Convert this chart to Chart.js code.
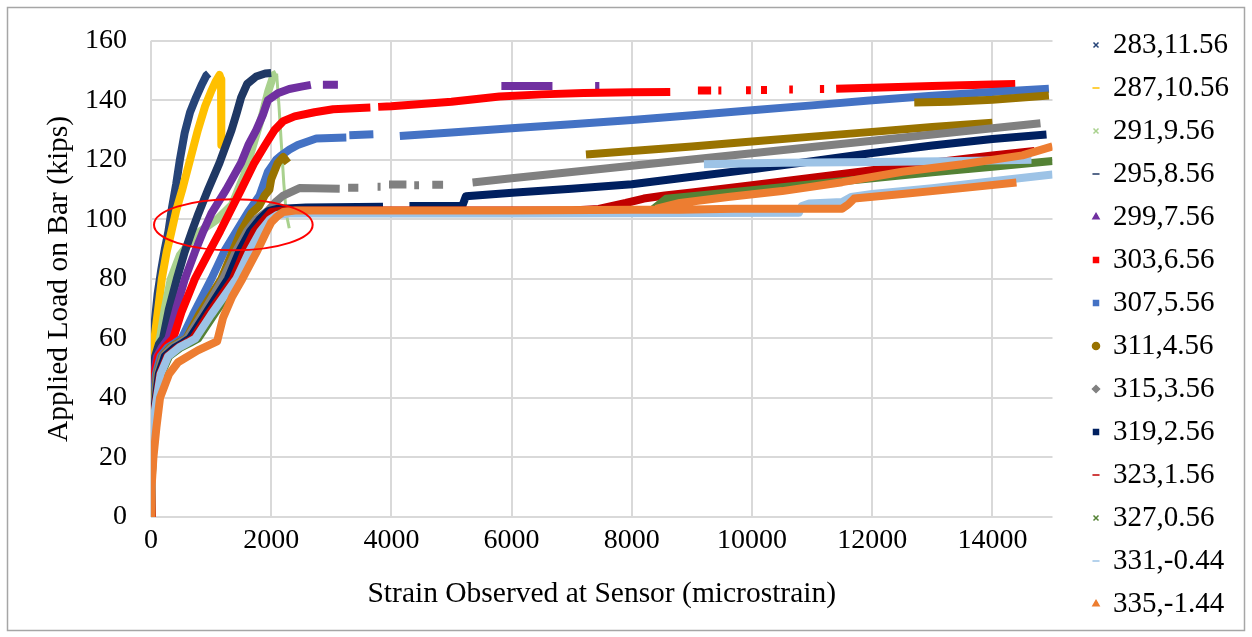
<!DOCTYPE html>
<html><head><meta charset="utf-8">
<script src="https://cdn.jsdelivr.net/npm/chart.js@4.4.1/dist/chart.umd.min.js"></script>
<style>html,body{margin:0;padding:0;background:#fff;}canvas{display:block;}</style>
</head><body>
<canvas id="c" width="1252" height="637"></canvas>
<script>
// ---- data: strain (microstrain) and applied load (kips); null = gap in the recorded trace ----
const seriesNames = ['283,11.56','287,10.56','291,9.56','295,8.56','299,7.56','303,6.56','307,5.56','311,4.56','315,3.56','319,2.56','323,1.56','327,0.56','331,-0.44','335,-1.44'];
const xTicks = [0,2000,4000,6000,8000,10000,12000,14000];
const yTicks = [0,20,40,60,80,100,120,140,160];

const strain283 = [0,3,8,15,30,60,110,170,230,290,350,420,480,560,650,750,850,920,960];
const load283   = [0,15,35,50,57,65,75,83,90,96,104,112,120,129,136,141,145.5,148.3,149];

const strain287 = [0,4,10,20,40,70,120,180,260,330,420,520,650,780,900,1000,1080,1140,1165,1170];
const load287   = [0,15,35,50,57,62,70,80,89,95,103,110,120,130,138,143,146.5,148.5,147,125];

const strain291 = [0,5,20,45,90,150,230,330,480,750,1100,1350,1550,1700,1850,1950,2040,2090,2130,2170,2210,2250,2300];
const load291   = [0,15,35,48,54,60,70,80,88,95,100,105,115,125,135,143,148.5,149,138,125,112,102,97];

const strain295 = [0,5,15,35,70,130,200,300,430,560,680,790,950,1140,1250,1340,1430,1500,1600,1750,1900,2000];
const load295   = [0,15,35,48,54,58,60,70,80,89,96,102,110,119,125,130,136,141,145.5,148,149,149.2];

const strain299 = [0,6,20,50,100,180,290,420,564,730,870,1005,1250,1500,1620,1751,1860,1945,2110,2300,2500,2660,null,2860,3110,null,5830,6680,null,7390,7460];
const load299   = [0,15,35,48,54,57,60,70,80,89,96,102,110,119,125,130,135,140,142.4,143.8,144.6,145.2,null,145.2,145.2,null,144.8,144.8,null,144.8,144.8];

const strain303 = [0,8,25,60,120,230,370,510,730,978,1150,1310,1500,1720,1900,2055,2200,2390,2720,3030,3650,null,3780,4000,5000,5800,6500,7200,8000,8640,null,9100,9320,null,9440,9490,null,9900,9980,null,10150,10250,null,10620,10680,null,11130,11200,null,11400,12000,13000,14000,14380];
const load303   = [0,15,35,48,54,57,60,69,80,89.5,96,102.4,110,119,125,130,133,134.6,136,137,137.6,null,137.8,138,139.5,141.3,142,142.5,142.7,142.8,null,143.3,143.3,null,143.3,143.3,null,143.4,143.4,null,143.5,143.5,null,143.6,143.6,null,143.8,143.8,null,143.9,144.2,144.8,145.3,145.5];

const strain307 = [0,10,30,80,160,280,400,510,700,1005,1226,1420,1613,1806,1945,2083,2166,2305,2442,2750,3250,null,3300,3700,null,4140,5000,6000,7000,8000,9000,10000,11000,12000,13000,14000,14940];
const load307   = [0,15,35,48,54,57,58.5,60,68,80,89.5,96,102.4,108,116,120,121.5,123.5,125,127.2,127.5,null,128.3,128.6,null,128,129.2,130.6,132,133.4,135,136.7,138.3,140,141.5,142.8,143.9];

const strain311 = [0,12,40,100,190,320,450,590,800,1170,1365,1500,1668,1800,1890,1970,2000,2050,2110,2200,2276,null,7237,8000,9000,10000,11000,12000,13000,14000,null,12700,13300,14000,14940];
const load311   = [0,15,35,48,54,57,58.5,60,68,80,89.5,96,102,104.5,108,110,113.5,116,119,121,119,null,121.8,123,124.5,126.2,127.8,129.4,131,132.5,null,139.3,139.5,140.2,141.6];

const strain315 = [0,12,45,110,200,350,480,600,850,1200,1420,1600,1750,1950,2083,2200,2470,3140,null,3280,3450,null,3770,3820,null,3960,4250,null,4380,4460,null,4680,4860,null,5350,6000,7000,8000,9000,10000,11000,12000,13000,14000,14800];
const load315   = [0,15,35,48,54,57,58.5,60,68,80,89.5,96,100,103,106,108,110.5,110.3,null,110.6,110.6,null,111,111,null,111.7,111.7,null,111.5,111.5,null,111.6,111.6,null,112.4,113.8,115.9,118,120.1,122.2,124.3,126.4,128.5,130.6,132.3];

const strain319 = [0,14,50,130,230,400,530,645,900,1280,1475,1650,1806,1950,2100,2580,3860,null,4300,5180,5240,6070,7000,8000,9000,10000,11000,12000,13000,14000,14900];
const load319   = [0,15,35,48,54,57,58.5,60,68,80,89.5,96,100,102.8,103.5,104,104.2,null,104.5,104.5,107.8,109,110.3,111.8,114.3,116.8,119.5,122.3,124.8,127,128.5];

const strain323 = [0,16,55,150,270,450,580,700,950,1365,1560,1720,1890,2000,2200,3000,5000,7000,7450,7900,8200,8550,9000,10000,11000,12000,13000,14000,14700];
const load323   = [0,15,35,48,54,57,58.5,60,68,80,89.5,96,100,102.5,103,103,103,103,103.5,105.5,107,108,109,111.5,114,116.5,119,121.5,123];

const strain327 = [0,18,65,170,300,500,650,785,1050,1450,1670,1850,2000,2150,2300,5000,8300,8570,9000,10000,11000,12000,13000,14000,15000];
const load327   = [0,15,35,48,54,57,58.5,60,68,80,89.5,96,100,102,102.6,102.5,102.5,106.9,107.8,109.8,111.8,113.8,115.8,117.7,119.6];

const strain331 = [0,17,60,160,285,470,610,740,1000,1420,1640,1820,1980,2100,2300,6000,10780,10830,10950,11500,11650,12000,13000,14000,15000,null,9200,10500,12000,13500,14650];
const load331   = [0,15,35,48,54,57,58.5,60,68,80,89.5,96,100,101.5,102,102,102.2,104.5,105.3,105.8,107.5,108.5,110.5,112.8,115.1,null,118.5,119,119.3,119.6,120];

const strain335 = [0,10,40,90,150,300,450,780,1100,1200,1350,1520,1650,1770,1900,2000,2100,2200,2400,4000,6000,8000,8800,9700,11500,11600,11700,12500,13500,14400,null,8400,8800,9600,10500,11500,12500,13500,14500,15000];
const load335   = [0,10,20,30,40,48,52,56,59,67,74,80,85,89.5,95,99,101,102.5,103,103,103,103.2,103.2,103.6,103.6,105,107,108.5,110.5,112.4,null,103.5,105.5,107.5,109.5,112.5,116,118.5,121.5,124.5];

const strainSeries = [strain283,strain287,strain291,strain295,strain299,strain303,strain307,strain311,strain315,strain319,strain323,strain327,strain331,strain335];
const loadSeries   = [load283,load287,load291,load295,load299,load303,load307,load311,load315,load319,load323,load327,load331,load335];

// ---- styles ----
const colors  = ['#264478','#FFC000','#A9D18E','#1F3864','#7030A0','#FF0000','#4472C4','#997300','#808080','#002060','#C00000','#548235','#9DC3E6','#ED7D31'];
const markers = ['crossRot','line','crossRot','line','triangle','rect','rect','circle','rectRot','rect','line','crossRot','line','triangle'];
const thinDescent = [false,false,true,false,false,false,false,false,false,false,false,false,false,false];
const highlight = {cx:1370, cy:98.2, rx:1320, ry:8.6};
const FAMILY = "'Liberation Serif','Times New Roman',serif";
const FONT = {family:FAMILY, size:28};
const TITLE_FONT = {family:FAMILY, size:29.5};
const LEGEND_FONT = {family:FAMILY, size:29};

const datasets = seriesNames.map((name,i)=>({
  label:name,
  data: strainSeries[i].map((x,k)=>({x:x, y:loadSeries[i][k]})),
  showLine:true,
  borderColor:colors[i],
  backgroundColor:colors[i],
  borderWidth:8,
  borderJoinStyle:'round',
  tension:0,
  spanGaps:false,
  pointRadius:0,
  pointHoverRadius:0,
  pointStyle:markers[i],
  pointBackgroundColor:colors[i],
  pointBorderColor:colors[i],
  pointBorderWidth:1.5,
  order: seriesNames.length - i,
  segment: thinDescent[i] ? {borderWidth: c => (c.p1.parsed.y < c.p0.parsed.y ? 3 : undefined)} : undefined
}));

const framePlugin = {
  id:'frame',
  beforeDraw(chart){
    const ctx = chart.ctx;
    ctx.save();
    ctx.fillStyle='#fff'; ctx.fillRect(0,0,chart.width,chart.height);
    ctx.strokeStyle='#a6a6a6'; ctx.lineWidth=1.5;
    ctx.strokeRect(7.5,7.5,chart.width-15,chart.height-14);
    ctx.restore();
  }
};
const ellipsePlugin = {
  id:'ellipse',
  afterDatasetsDraw(chart){
    const {ctx, scales:{x,y}} = chart;
    const cx = x.getPixelForValue(highlight.cx), cy = y.getPixelForValue(highlight.cy);
    const rx = x.getPixelForValue(highlight.cx+highlight.rx) - cx;
    const ry = cy - y.getPixelForValue(highlight.cy+highlight.ry);
    ctx.save(); ctx.beginPath(); ctx.ellipse(cx,cy,rx,ry,0,0,2*Math.PI);
    ctx.strokeStyle='#FF0000'; ctx.lineWidth=2; ctx.stroke(); ctx.restore();
  }
};

Chart.defaults.font.family = FAMILY;
new Chart(document.getElementById('c'), {
  type:'scatter',
  data:{datasets},
  plugins:[framePlugin, ellipsePlugin],
  options:{
    responsive:false, animation:false, devicePixelRatio:1,
    layout:{padding:{top:12,left:0,right:13,bottom:0}},
    plugins:{
      title:{display:true, text:' ', font:{size:10, lineHeight:1}, padding:9},
      tooltip:{enabled:false},
      legend:{
        position:'right', align:'center',
        labels:{usePointStyle:true, boxWidth:5, boxHeight:5, padding:14, color:'#000', font:LEGEND_FONT,
          sort:(a,b)=>a.datasetIndex-b.datasetIndex}
      }
    },
    scales:{
      x:{
        type:'linear', min:0, max:15000,
        afterBuildTicks:s=>{ s.ticks = xTicks.map(v=>({value:v})); },
        ticks:{color:'#000', font:FONT, padding:7, maxRotation:0, autoSkip:false, callback:v=>String(v)},
        grid:{color:'#d9d9d9', lineWidth:2, drawTicks:false},
        border:{display:false},
        title:{display:true, text:'Strain Observed at Sensor (microstrain)', color:'#000', font:TITLE_FONT, padding:{top:0,bottom:25}},
        afterFit:s=>{ s.height = 120; }
      },
      y:{
        type:'linear', min:0, max:160,
        afterBuildTicks:s=>{ s.ticks = yTicks.map(v=>({value:v})); },
        ticks:{color:'#000', font:FONT, padding:24, callback:v=>String(v)},
        grid:{color:'#d9d9d9', lineWidth:2, drawTicks:false},
        border:{display:false},
        title:{display:true, text:'Applied Load on Bar (kips)', color:'#000', font:TITLE_FONT, padding:{top:42,bottom:0}},
        afterFit:s=>{ s.width = 151; }
      },
      gap:{
        type:'linear', position:'right', axis:'y', display:true,
        grid:{display:false}, ticks:{display:false}, border:{display:false}, title:{display:false},
        afterFit:s=>{ s.width = 27; }
      }
    }
  }
});
</script>
</body></html>
